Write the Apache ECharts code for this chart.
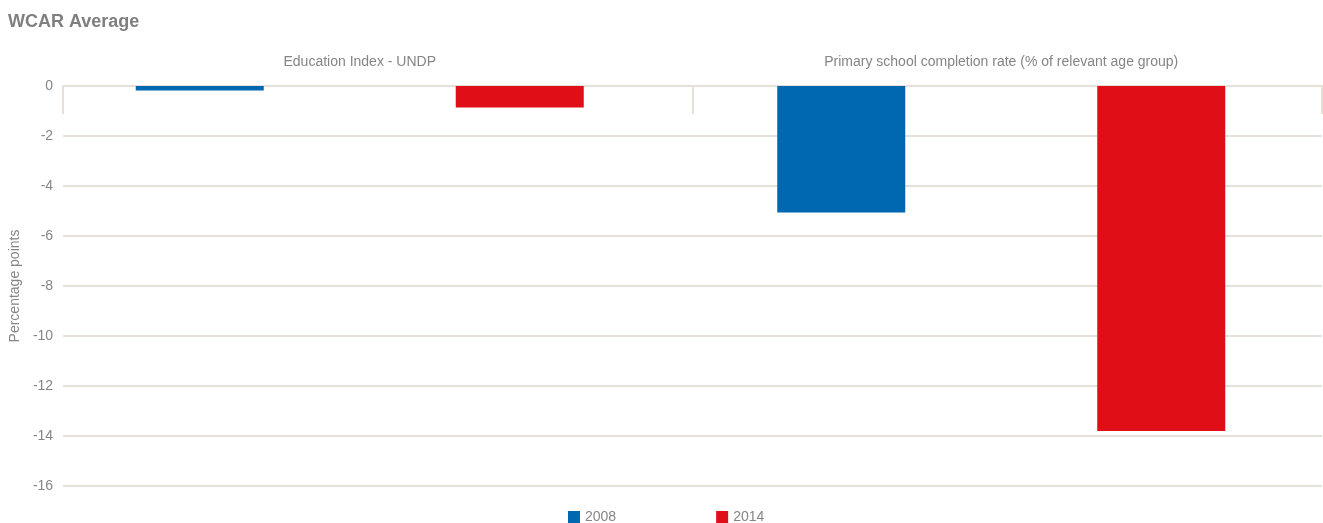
<!DOCTYPE html>
<html>
<head>
<meta charset="utf-8">
<script src="https://cdn.jsdelivr.net/npm/echarts@6/dist/echarts.min.js"></script>
<style>html,body{margin:0;padding:0;background:#fff;}#c{width:1323px;height:523px;}</style>
</head>
<body>
<div id="c"></div>
<script>
const categories = ['Education Index - UNDP', 'Primary school completion rate (% of relevant age group)'];
const values2008 = [-0.18, -5.06];
const values2014 = [-0.86, -13.8];
const yTicks = { min: -16, max: 0, interval: 2 };

const gridCol = '#e6e0d9';
const textCol = '#858585';
const font = '"Liberation Sans", Arial, Helvetica, sans-serif';

const chart = echarts.init(document.getElementById('c'));
chart.setOption({
  animation: false,
  textStyle: { fontFamily: font },
  title: {
    text: 'WCAR Average', left: 3, top: 8,
    textStyle: { fontFamily: font, fontSize: 18, fontWeight: 'bold', color: '#7f7f7f' }
  },
  legend: {
    left: 563, top: 510, padding: [0, 5, 0, 5], itemWidth: 12, itemHeight: 12, itemGap: 100,
    icon: 'rect',
    textStyle: { color: textCol, fontSize: 14, fontFamily: font },
    data: ['2008', '2014']
  },
  grid: [
    { left: 39, right: 1, top: 86, bottom: 37 },
    { left: 62, right: 1, top: 86, bottom: 37 }
  ],
  xAxis: [
    {
      type: 'category', gridIndex: 0, position: 'top', data: categories,
      axisLine: { show: false }, axisTick: { show: false },
      axisLabel: { color: textCol, fontSize: 14, margin: 17, fontFamily: font }
    },
    {
      type: 'category', gridIndex: 1, position: 'top', data: categories,
      axisLine: { show: true, lineStyle: { color: gridCol, width: 2 } },
      axisTick: { show: true, inside: true, length: 28, lineStyle: { color: gridCol, width: 2 } },
      axisLabel: { show: false }
    }
  ],
  yAxis: [
    { type: 'value', gridIndex: 0, min: yTicks.min, max: yTicks.max, interval: yTicks.interval, show: false },
    {
      type: 'value', gridIndex: 1, min: yTicks.min, max: yTicks.max, interval: yTicks.interval,
      axisLine: { show: false }, axisTick: { show: false },
      axisLabel: { color: textCol, fontSize: 14, margin: 10, fontFamily: font },
      splitLine: { lineStyle: { color: gridCol, width: 2 } },
      name: 'Percentage points', nameLocation: 'middle', nameGap: 40, nameRotate: 90,
      nameTextStyle: { color: textCol, fontSize: 14, fontFamily: font }
    }
  ],
  series: [
    { name: '2008', type: 'bar', xAxisIndex: 0, yAxisIndex: 0, data: values2008,
      barWidth: 128, barGap: '150%', itemStyle: { color: '#0067b1' } },
    { name: '2014', type: 'bar', xAxisIndex: 0, yAxisIndex: 0, data: values2014,
      barWidth: 128, barGap: '150%', itemStyle: { color: '#e00e17' } }
  ]
});
</script>
</body>
</html>
